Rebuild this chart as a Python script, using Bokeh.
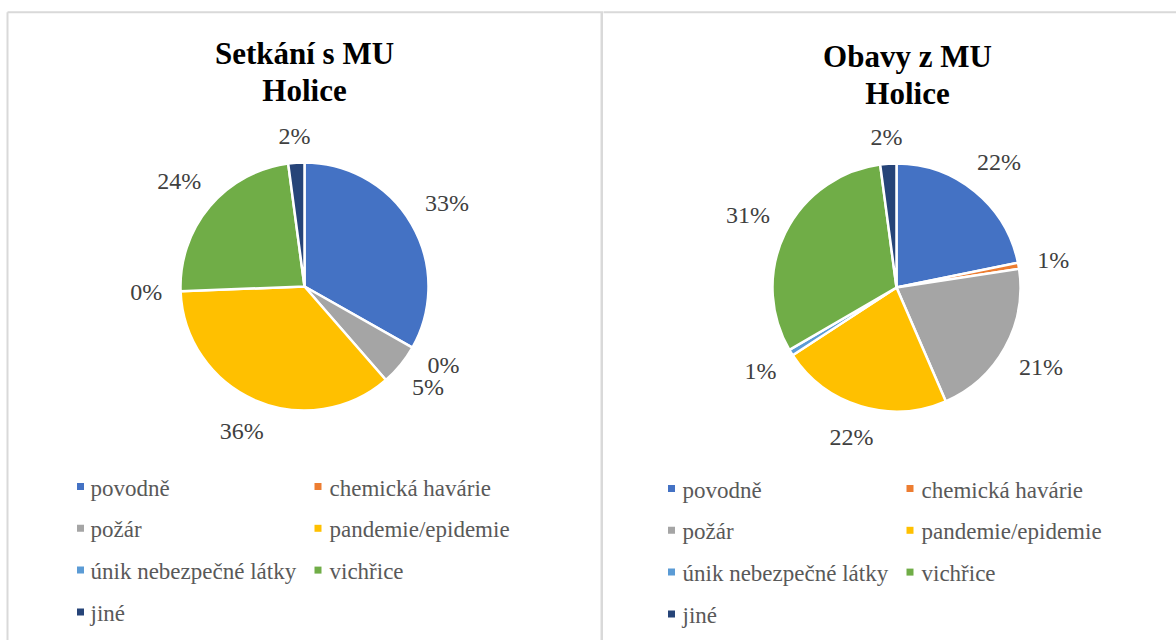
import math
from bokeh.plotting import figure
from bokeh.models import ColumnDataSource, Range1d
from bokeh.layouts import row
from bokeh.embed import file_html
from bokeh.resources import INLINE
from bokeh.core.properties import value

# ---------------- data ----------------
categories = ["povodně", "chemická havárie", "požár", "pandemie/epidemie",
              "únik nebezpečné látky", "vichřice", "jiné"]
colors = ["#4472C4", "#ED7D31", "#A5A5A5", "#FFC000", "#5B9BD5", "#70AD47", "#264478"]
setkani_values = [33.2, 0.0, 5.4, 35.8, 0.0, 23.5, 2.1]
obavy_values = [21.8, 0.8, 20.9, 22.3, 0.8, 31.3, 2.1]
title_left = ["Setkání s MU", "Holice"]
title_right = ["Obavy z MU", "Holice"]

# ---------------- layout ----------------
H = 640
FONT = "Liberation Serif"
BORDER = "#d9d9d9"
R = 124
LABEL_F = 24
LEGEND_F = 23
TITLE_F = 31
TEXT_DY = -8  # rendering offset correction for text baselines (page px)


def make_panel(x0, W, values, title_lines, cx, cy, tcx, tbase, leg_marker_x, leg_text_x,
               leg_base, divider_x=None, left_border_x=None):
    def X(px):
        return px - x0

    def Y(py):
        return H - py

    def YT(py):
        return H - (py + TEXT_DY)

    p = figure(width=W, height=H, output_backend="svg", toolbar_location=None,
               x_range=Range1d(0, W), y_range=Range1d(0, H),
               x_axis_type=None, y_axis_type=None, min_border=0,
               outline_line_color=None, background_fill_color="white",
               border_fill_color="white")
    p.grid.visible = False

    # panel borders
    top = 11.7
    lx0 = X(left_border_x) if left_border_x is not None else -2
    p.segment(x0=[lx0], y0=[Y(top)], x1=[W + 2], y1=[Y(top)], line_color=BORDER, line_width=2)
    if left_border_x is not None:
        p.segment(x0=[X(left_border_x)], y0=[Y(top)], x1=[X(left_border_x)], y1=[-2],
                  line_color=BORDER, line_width=2)
    if divider_x is not None:
        p.segment(x0=[X(divider_x)], y0=[Y(top)], x1=[X(divider_x)], y1=[-2],
                  line_color=BORDER, line_width=3)

    # title
    for i, line in enumerate(title_lines):
        p.text(x=[X(tcx)], y=[YT(tbase + i * 37)], text=[line], text_font=value(FONT),
               text_font_size=f"{TITLE_F}px", text_font_style="bold", text_color="black",
               text_align="center", text_baseline="alphabetic")

    # pie wedges
    total = sum(values)
    cum = 0.0
    ws = dict(x=[], y=[], s=[], e=[], c=[])
    ls = dict(x=[], y=[], t=[])
    for v, col in zip(values, colors):
        f0 = cum / total
        cum += v
        f1 = cum / total
        if v > 0:
            ws["x"].append(X(cx))
            ws["y"].append(Y(cy))
            ws["s"].append(math.pi / 2 - 2 * math.pi * f0)
            ws["e"].append(math.pi / 2 - 2 * math.pi * f1)
            ws["c"].append(col)
        # label
        txt = f"{int(v + 0.5)}%"
        phi = 2 * math.pi * (f0 + f1) / 2
        w = (0.5 * (len(txt) - 1) + 0.833) * LABEL_F
        h = 0.66 * LABEL_F
        dist = R + 18 + abs(math.sin(phi)) * w / 2 + abs(math.cos(phi)) * h / 2
        lx = cx + dist * math.sin(phi)
        ly = cy - dist * math.cos(phi)
        ls["x"].append(X(lx))
        ls["y"].append(YT(ly + h / 2))
        ls["t"].append(txt)

    p.wedge(x="x", y="y", radius=R, start_angle="s", end_angle="e", direction="clock",
            fill_color="c", line_color="white", line_width=2.5,
            source=ColumnDataSource(ws))
    p.text(x="x", y="y", text="t", source=ColumnDataSource(ls), text_font=value(FONT),
           text_font_size=f"{LABEL_F}px", text_color="#404040", text_align="center",
           text_baseline="alphabetic")

    # legend (2 columns, row-major)
    lg = dict(mx=[], my=[], tx=[], ty=[], t=[], c=[])
    for i, (cat, col) in enumerate(zip(categories, colors)):
        r_, c_ = divmod(i, 2)
        base = leg_base + r_ * 41.8
        lg["mx"].append(X(leg_marker_x[c_]))
        lg["my"].append(Y(base - 9.5))
        lg["tx"].append(X(leg_text_x[c_]))
        lg["ty"].append(YT(base))
        lg["t"].append(cat)
        lg["c"].append(col)
    src = ColumnDataSource(lg)
    p.rect(x="mx", y="my", width=7, height=7, fill_color="c", line_color=None, source=src)
    p.text(x="tx", y="ty", text="t", source=src, text_font=value(FONT),
           text_font_size=f"{LEGEND_F}px", text_color="#595959", text_align="left",
           text_baseline="alphabetic")
    return p


p1 = make_panel(0, 603, setkani_values, title_left, 304, 286, 304, 61,
                (80, 317.5), (90, 329), 495.5, divider_x=601.5, left_border_x=7)
p2 = make_panel(603, 573, obavy_values, title_right, 896, 287, 907, 64,
                (671, 909.5), (682, 921), 497.5)

layout = row(p1, p2)
open("out.html", "w").write(file_html(layout, INLINE))
